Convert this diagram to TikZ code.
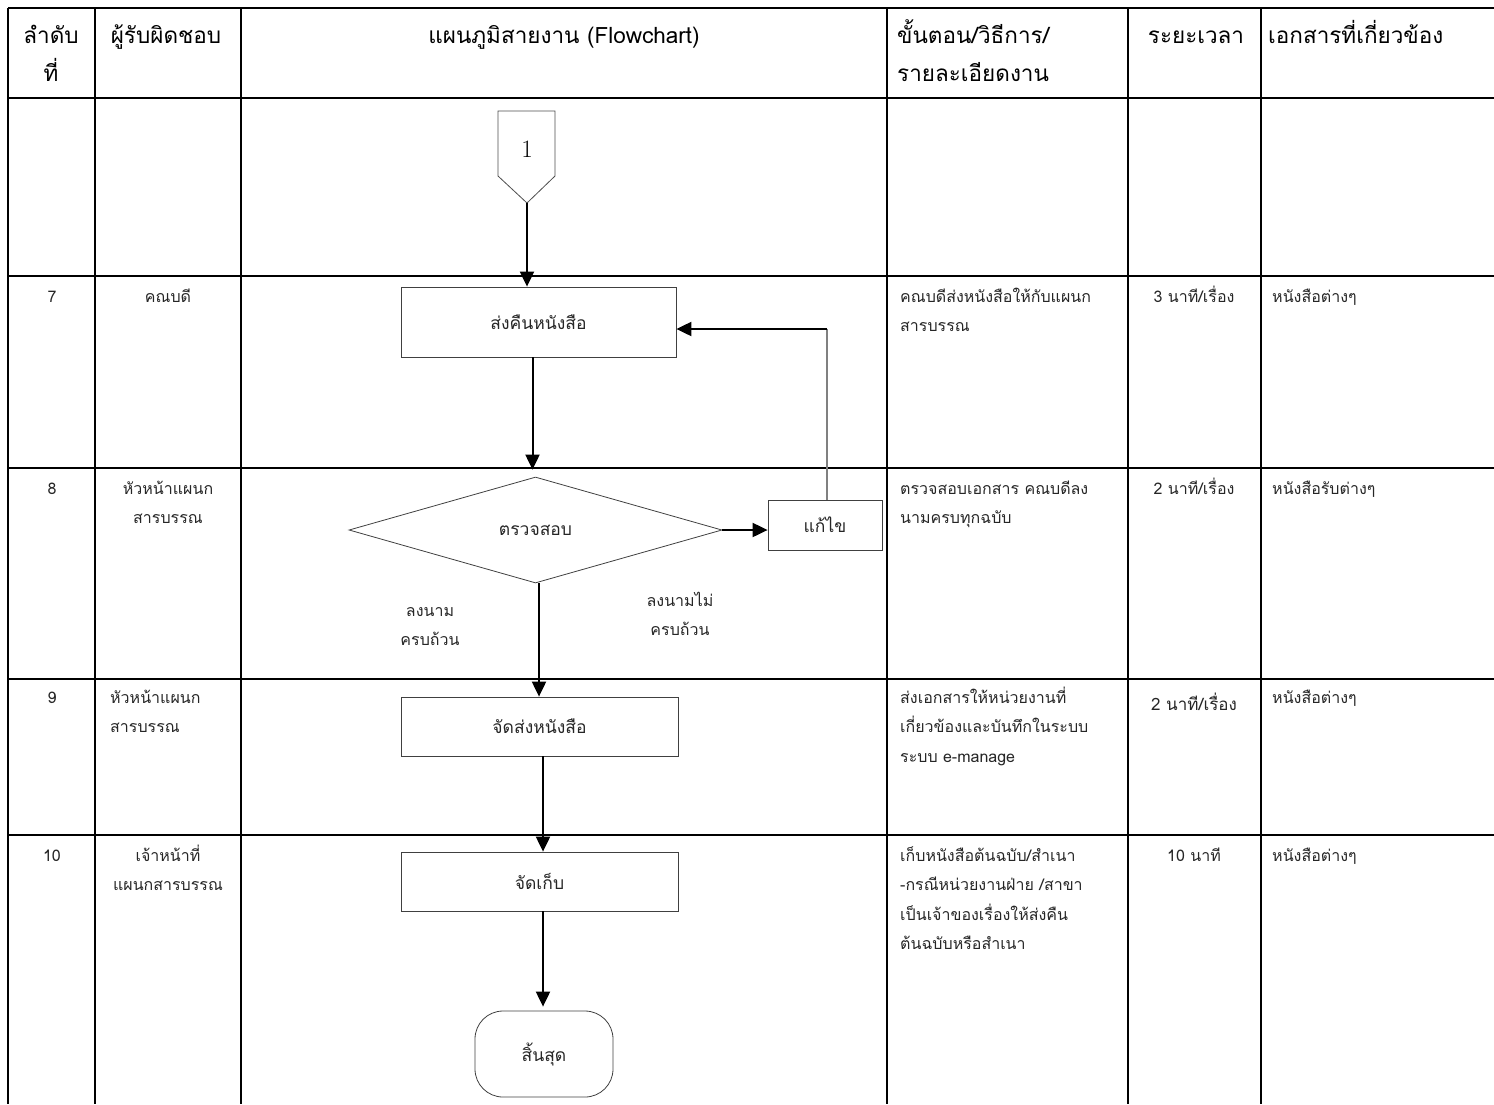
\documentclass[tikz,border=0pt]{standalone}
\usepackage{fontspec}
\newfontfamily\thai[Script=Thai]{Loma}
\usetikzlibrary{arrows.meta,shapes.geometric}
\begin{document}
\begin{tikzpicture}[x=1pt,y=-1pt,
  tbl/.style={line width=2.3pt,black},
  hd/.style={font=\thai\fontsize{22.5}{38}\selectfont,inner sep=0pt,text=black},
  bd/.style={font=\thai\fontsize{16}{29.5}\selectfont,inner sep=0pt,text=black!85},
  fbox/.style={draw=black!75,line width=0.8pt,font=\thai\fontsize{17.5}{30}\selectfont,text=black!85,inner sep=0pt},
  arr/.style={line width=2pt,-{Triangle[length=15pt,width=14pt]}},
  fbline/.style={line width=1.1pt,draw=black!50}]
\useasboundingbox (0,0) rectangle (1494,1104);
% table grid
\foreach \y in {8,98,276,468,679,835} \draw[tbl] (8,\y) -- (1494,\y);
\foreach \x in {8,95,241,887,1128,1261} \draw[tbl] (\x,8) -- (\x,1104);
% header
\node[hd,anchor=base] (h1a) at (51,43) {ลำดับ};
\node[hd,anchor=base] (h1b) at (51,81) {ที่};
\node[hd,anchor=base] (h2) at (166,43) {ผู้รับผิดชอบ};
\node[hd,anchor=base] (h3) at (564,43) {แผนภูมิสายงาน (Flowchart)};
\node[hd,anchor=base west] (h4a) at (897,43) {ขั้นตอน/วิธีการ/};
\node[hd,anchor=base west] (h4b) at (897,81) {รายละเอียดงาน};
\node[hd,anchor=base] (h5) at (1196,43) {ระยะเวลา};
\node[hd,anchor=base west] (h6) at (1268,43) {เอกสารที่เกี่ยวข้อง};
% row 7
\node[bd,anchor=base] (n7) at (52,302) {7};
\node[bd,anchor=base] (r7) at (168,302) {คณบดี};
\node[bd,anchor=base west,align=left] (d7) at (900,331.5) {คณบดีส่งหนังสือให้กับแผนก\\สารบรรณ};
\node[bd,anchor=base] (t7) at (1194,302) {3 นาที/เรื่อง};
\node[bd,anchor=base west] (k7) at (1272,302) {หนังสือต่างๆ};
% row 8
\node[bd,anchor=base] (n8) at (52,494) {8};
\node[bd,anchor=base,align=center] (r8) at (168,523.5) {หัวหน้าแผนก\\สารบรรณ};
\node[bd,anchor=base west,align=left] (d8) at (900,523.5) {ตรวจสอบเอกสาร คณบดีลง\\นามครบทุกฉบับ};
\node[bd,anchor=base] (t8) at (1194,494) {2 นาที/เรื่อง};
\node[bd,anchor=base west] (k8) at (1272,494) {หนังสือรับต่างๆ};
% row 9
\node[bd,anchor=base] (n9) at (52,703) {9};
\node[bd,anchor=base west,align=left] (r9) at (110,732.5) {หัวหน้าแผนก\\สารบรรณ};
\node[bd,anchor=base west,align=left] (d9) at (900,762) {ส่งเอกสารให้หน่วยงานที่\\เกี่ยวข้องและบันทึกในระบบ\\ระบบ e-manage};
\node[bd,anchor=base,font=\thai\fontsize{17}{30}\selectfont] (t9) at (1194,710) {2 นาที/เรื่อง};
\node[bd,anchor=base west] (k9) at (1272,703) {หนังสือต่างๆ};
% row 10
\node[bd,anchor=base] (n10) at (52,861) {10};
\node[bd,anchor=base,align=center] (r10) at (168,890.5) {เจ้าหน้าที่\\แผนกสารบรรณ};
\node[bd,anchor=base west,align=left] (d10) at (900,949.5) {เก็บหนังสือต้นฉบับ/สำเนา\\-กรณีหน่วยงานฝ่าย /สาขา\\เป็นเจ้าของเรื่องให้ส่งคืน\\ต้นฉบับหรือสำเนา};
\node[bd,anchor=base] (t10) at (1194,861) {10 นาที};
\node[bd,anchor=base west] (k10) at (1272,861) {หนังสือต่างๆ};
% flowchart
\draw[draw=black!70,line width=0.8pt] (498,111) -- (555,111) -- (555,176) -- (527,203) -- (498,176) -- cycle;
\node[font=\fontsize{25}{30}\selectfont,inner sep=0pt] (c1) at (527,149) {1};
\coordinate (c1tip) at (527,203);
\node[fbox,minimum width=275pt,minimum height=70pt] (b1) at (538.5,322) {ส่งคืนหนังสือ};
\node[fbox,diamond,minimum width=373pt,minimum height=106pt] (dia) at (535.5,530) {ตรวจสอบ};
\node[fbox,minimum width=114pt,minimum height=50pt] (fix) at (825,525) {แก้ไข};
\node[fbox,minimum width=277pt,minimum height=59pt] (b2) at (539.5,726.5) {จัดส่งหนังสือ};
\node[fbox,minimum width=277pt,minimum height=59pt] (b3) at (539.5,881.5) {จัดเก็บ};
\node[fbox,rounded corners=28pt,minimum width=138pt,minimum height=86pt] (end) at (544,1054) {สิ้นสุด};
\node[bd,align=center,anchor=base] (ly) at (430,645.5) {ลงนาม\\ครบถ้วน};
\node[bd,align=center,anchor=base] (ln) at (680,635.5) {ลงนามไม่\\ครบถ้วน};
\coordinate (fbc) at (827,329);
% connectors
\draw[arr] (c1tip) -- (c1tip |- b1.north);
\draw[arr,shorten >=7pt] ([xshift=-6pt]b1.south) -- ([xshift=-6pt]b1.south |- dia.north);
\draw[arr] (dia.east) -- (dia.east -| fix.west);
\draw[fbline] (fbc |- fix.north) -- (fbc);
\draw[arr] (fbc) -- (fbc -| b1.east);
\draw[arr] ([xshift=3.5pt]dia.south) -- ([xshift=3.5pt]dia.south |- b2.north);
\draw[arr] ([xshift=3.5pt]b2.south) -- ([xshift=3.5pt]b3.north);
\draw[arr,shorten >=4pt] ([xshift=3.5pt]b3.south) -- ([xshift=3.5pt]b3.south |- end.north);
\end{tikzpicture}
\end{document}
